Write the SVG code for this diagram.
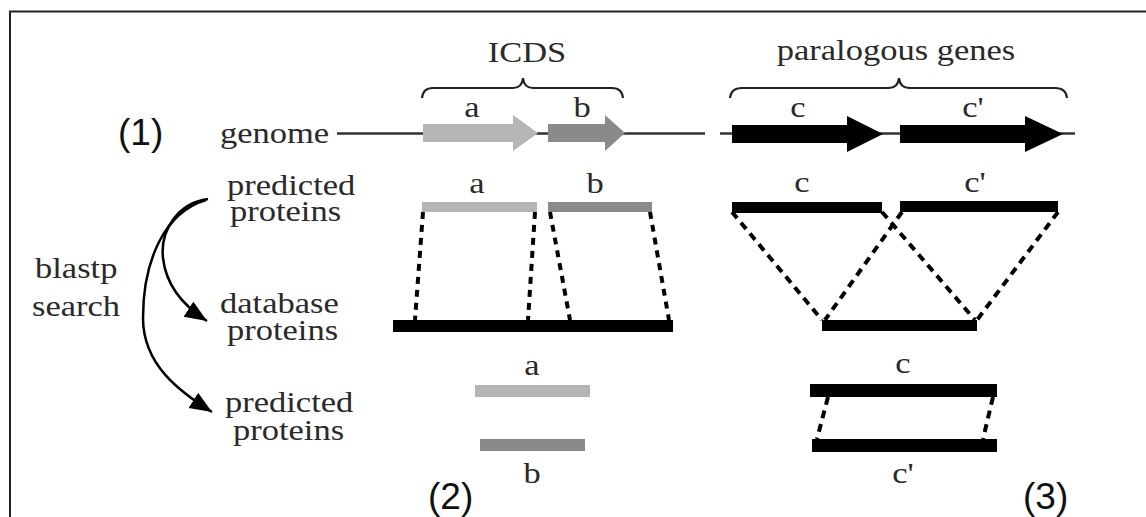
<svg xmlns="http://www.w3.org/2000/svg" width="1146" height="517" viewBox="0 0 1146 517">
  <style>
    .lbl { font-family: "Liberation Serif", "Times New Roman", serif; font-size: 30px; fill: #2a2a2a; }
    .num { font-family: "Liberation Sans", Arial, sans-serif; font-size: 37px; fill: #111; }
    .mid { text-anchor: middle; }
    .gene { stroke: #333; stroke-width: 2.5; fill: none; }
    .brace { stroke: #222; stroke-width: 2.2; fill: none; }
    .light { fill: #b5b5b5; }
    .dark { fill: #8a8a8a; }
    .black { fill: #000; }
    .dash { stroke: #000; stroke-width: 4; stroke-dasharray: 7 6; fill: none; }
    .diag { stroke: #000; stroke-width: 4; stroke-dasharray: 8 6; fill: none; }
    .curve { stroke: #000; stroke-width: 2.5; fill: none; marker-end: url(#head); }
  </style>
  <defs>
    <marker id="head" markerUnits="userSpaceOnUse" markerWidth="24" markerHeight="20" refX="22" refY="9" orient="auto">
      <path d="M0,0 L22,9 L0,18 z" fill="#000"/>
    </marker>
  </defs>

  <!-- frame -->
  <path d="M10,517 V11.5 H1146" stroke="#222" stroke-width="2" fill="none"/>

  <!-- panel numbers -->
  <g id="num1"><text class="num" x="118" y="145">(1)</text></g>
  <g id="num2"><text class="num" x="428" y="509">(2)</text></g>
  <g id="num3"><text class="num" x="1023" y="509">(3)</text></g>

  <!-- row labels -->
  <g id="lbl-genome"><text class="lbl" transform="translate(220,143) scale(1.15,1)">genome</text></g>
  <g id="lbl-predicted1">
    <text class="lbl" transform="translate(227,195) scale(1.15,1)">predicted</text>
    <text class="lbl" transform="translate(230,221) scale(1.15,1)">proteins</text>
  </g>
  <g id="lbl-database">
    <text class="lbl" transform="translate(220,313) scale(1.15,1)">database</text>
    <text class="lbl" transform="translate(227,340) scale(1.15,1)">proteins</text>
  </g>
  <g id="lbl-predicted2">
    <text class="lbl" transform="translate(225,412) scale(1.15,1)">predicted</text>
    <text class="lbl" transform="translate(233,440) scale(1.15,1)">proteins</text>
  </g>
  <g id="lbl-blastp">
    <text class="lbl" transform="translate(35,278) scale(1.15,1)">blastp</text>
    <text class="lbl" transform="translate(32,316) scale(1.15,1)">search</text>
  </g>

  <!-- group headings with braces -->
  <g id="icds">
    <text class="lbl mid" transform="translate(527,62) scale(1.15,1)">ICDS</text>
    <path class="brace" d="M422,98 Q423,88 433,88 H513 Q522,88 523,78 Q524,88 533,88 H612 Q622,88 623,98"/>
  </g>
  <g id="paralogous">
    <text class="lbl mid" transform="translate(896,60) scale(1.15,1)">paralogous genes</text>
    <path class="brace" d="M730,98 Q731,88 742,88 H888 Q898,88 899,78 Q900,88 910,88 H1055 Q1066,88 1067,98"/>
  </g>

  <!-- genome line and genes -->
  <g id="genome">
    <path class="gene" d="M337,133.5 H705 M720,133.5 H1075"/>
    <g id="gene-a">
      <polygon class="light" points="423,124 513,124 513,115 538,133 513,151 513,142 423,142"/>
      <text class="lbl mid" transform="translate(472,117) scale(1.15,1)">a</text>
    </g>
    <g id="gene-b">
      <polygon class="dark" points="548,124 605,124 605,115 625,133 605,151 605,142 548,142"/>
      <text class="lbl mid" transform="translate(582,117) scale(1.15,1)">b</text>
    </g>
    <g id="gene-c">
      <polygon class="black" points="732,125 847,125 847,116 883,134 847,152 847,143 732,143"/>
      <text class="lbl mid" transform="translate(798,117) scale(1.15,1)">c</text>
    </g>
    <g id="gene-c2">
      <polygon class="black" points="900,125 1025,125 1025,116 1063,134 1025,152 1025,143 900,143"/>
      <text class="lbl mid" transform="translate(973,117) scale(1.15,1)">c'</text>
    </g>
  </g>

  <!-- predicted proteins (ICDS) -->
  <g id="prot-a">
    <rect class="light" x="422" y="202" width="115" height="10"/>
    <text class="lbl mid" transform="translate(477,193) scale(1.15,1)">a</text>
  </g>
  <g id="prot-b">
    <rect class="dark" x="548" y="202" width="104" height="10"/>
    <text class="lbl mid" transform="translate(595,193) scale(1.15,1)">b</text>
  </g>
  <g id="db-icds"><rect class="black" x="393" y="320" width="280" height="12"/></g>

  <!-- predicted proteins (paralogous) -->
  <g id="prot-c">
    <rect class="black" x="732" y="202" width="150" height="11"/>
    <text class="lbl mid" transform="translate(802,192) scale(1.15,1)">c</text>
  </g>
  <g id="prot-c2">
    <rect class="black" x="900" y="201" width="158" height="11"/>
    <text class="lbl mid" transform="translate(975,192) scale(1.15,1)">c'</text>
  </g>
  <g id="db-para"><rect class="black" x="822" y="320" width="155" height="11"/></g>

  <!-- result proteins -->
  <g id="res-a">
    <rect class="light" x="475" y="385" width="115" height="12"/>
    <text class="lbl mid" transform="translate(532,375) scale(1.15,1)">a</text>
  </g>
  <g id="res-b">
    <rect class="dark" x="480" y="439" width="105" height="12"/>
    <text class="lbl mid" transform="translate(532,483) scale(1.15,1)">b</text>
  </g>
  <g id="res-c">
    <rect class="black" x="810" y="384" width="187" height="13"/>
    <text class="lbl mid" transform="translate(903,373) scale(1.15,1)">c</text>
  </g>
  <g id="res-c2">
    <rect class="black" x="812" y="439" width="185" height="13"/>
    <text class="lbl mid" transform="translate(903,483) scale(1.15,1)">c'</text>
  </g>

  <!-- connectors -->
  <g id="connectors">
    <path class="dash" d="M423,212 L415,320"/>
    <path class="dash" d="M535,212 L528,320"/>
    <path class="dash" d="M550,212 L570,320"/>
    <path class="dash" d="M650,212 L669,320"/>
    <path class="diag" d="M732,212 L822,320"/>
    <path class="diag" d="M882,212 L975,320"/>
    <path class="diag" d="M902,212 L825,320"/>
    <path class="diag" d="M1058,212 L977,320"/>
    <path class="diag" d="M828,397 L817,439"/>
    <path class="diag" d="M993,397 L983,439"/>
    <path class="curve" d="M208,199 C178,203 160,230 163,258 C166,285 182,305 207,321"/>
    <path class="curve" d="M206,200 C165,212 143,260 143,318 C143,365 180,392 212,412"/>
  </g>
</svg>
